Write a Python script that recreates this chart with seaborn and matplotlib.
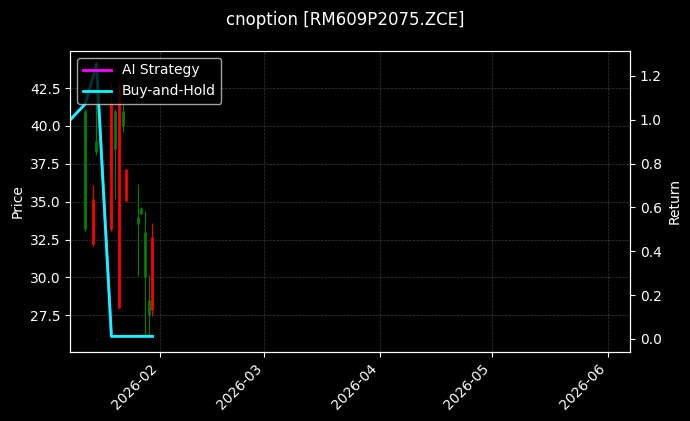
import pandas as pd
import matplotlib
import matplotlib.pyplot as plt
import matplotlib.dates as mdates
import seaborn as sns

matplotlib.use("Agg")

# candle data
candle_dates = ["2026-01-12", "2026-01-14", "2026-01-15", "2026-01-19", "2026-01-20",
                "2026-01-21", "2026-01-22", "2026-01-23", "2026-01-26", "2026-01-27",
                "2026-01-28", "2026-01-29", "2026-01-30"]
open_px = [41.0, 32.2, 39.0, 33.2, 41.0, 28.0, 41.0, 35.05, 34.0, 34.6, 33.0, 28.5, 27.87]
close_px = [33.2, 35.2, 38.3, 41.5, 38.5, 42.5, 40.0, 37.15, 33.5, 34.2, 30.0, 27.5, 32.7]
high_px = [41.13, 36.1, 44.14, 42.9, 41.13, 42.9, 41.46, 37.15, 36.16, 34.63, 34.4, 30.19, 33.6]
low_px = [33.06, 32.07, 38.08, 33.06, 35.16, 27.99, 39.58, 35.05, 30.08, 34.17, 26.2, 26.05, 27.43]

# return curves
ret_dates = ["2026-01-08", "2026-01-12", "2026-01-14", "2026-01-15", "2026-01-19",
             "2026-01-20", "2026-01-21", "2026-01-22", "2026-01-23", "2026-01-26",
             "2026-01-27", "2026-01-28", "2026-01-29", "2026-01-30"]
ai_return = [1.0, 1.072, 1.19, 1.255, 0.012, 0.012, 0.012, 0.012, 0.012, 0.012,
             0.012, 0.012, 0.012, 0.012]
bh_return = [1.0, 1.072, 1.19, 1.255, 0.012, 0.012, 0.012, 0.012, 0.012, 0.012,
             0.012, 0.012, 0.012, 0.012]

candles = pd.DataFrame({"date": pd.to_datetime(candle_dates), "open": open_px,
                        "close": close_px, "high": high_px, "low": low_px})
candles["color"] = ["red" if c >= o else "green" for o, c in zip(open_px, close_px)]

rets = pd.DataFrame({"date": pd.to_datetime(ret_dates), "AI Strategy": ai_return,
                     "Buy-and-Hold": bh_return})

plt.style.use("dark_background")
fig = plt.figure(figsize=(6.9, 4.21), dpi=100)
ax = fig.add_axes([0.102, 0.1646, 0.811, 0.7143])
ax2 = ax.twinx()

# candles: thin wick + thicker body
ax.vlines(candles["date"], candles["low"], candles["high"], colors=candles["color"], linewidth=0.8)
ax.vlines(candles["date"], candles["open"], candles["close"], colors=candles["color"], linewidth=2)
ax.set_ylim(25.1, 44.95)
ax.set_ylabel("Price")
ax.grid(True, linestyle="--", linewidth=0.5, color="gray", alpha=0.45)

sns.lineplot(data=rets, x="date", y="AI Strategy", ax=ax2, color="magenta", linewidth=2, label="AI Strategy")
sns.lineplot(data=rets, x="date", y="Buy-and-Hold", ax=ax2, color="cyan", linewidth=2, label="Buy-and-Hold")
ax2.set_ylim(-0.058, 1.313)
ax2.set_ylabel("Return")
ax2.set_xlabel("")
ax2.legend(loc="upper left")

ax.set_xlim(pd.Timestamp("2026-01-08"), pd.Timestamp("2026-06-07"))
ax.xaxis.set_major_locator(mdates.MonthLocator())
ax.xaxis.set_major_formatter(mdates.DateFormatter("%Y-%m"))
for lbl in ax.get_xticklabels():
    lbl.set_rotation(45)
    lbl.set_ha("right")

fig.suptitle("cnoption [RM609P2075.ZCE]", fontsize=12, y=0.975)

fig.savefig("out.png", dpi=100, facecolor="black")
